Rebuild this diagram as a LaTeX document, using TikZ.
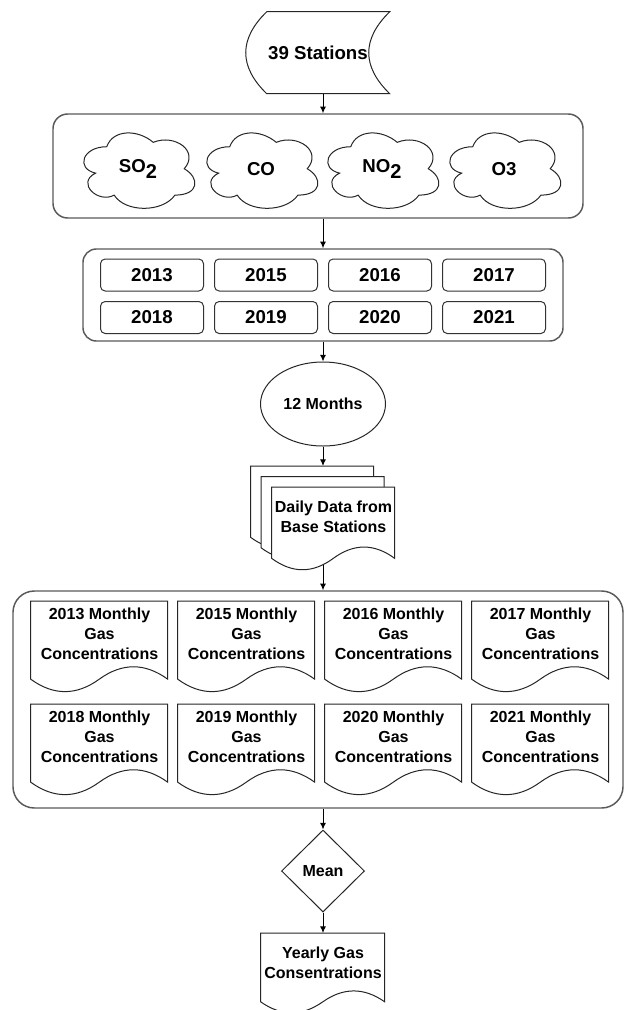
\documentclass[tikz,border=0pt]{standalone}
\usepackage{fontspec}
\setmainfont{Liberation Sans}
\usetikzlibrary{shapes.geometric,arrows.meta,backgrounds,positioning,calc}
% subscript two, set large and lowered as in the chart
\newcommand{\subtwo}{\raisebox{-4pt}{\fontsize{15}{15}\selectfont 2}}
% text block of a document sheet: [c][height][t]{width}, top gap, lines
\newcommand{\docText}[4]{\parbox[c][#1][t]{#2}{\centering\vspace*{#3}#4}}
\newcommand{\cloudShape}[3]{%
  \draw[shapeline,fill=white,shift={(#1.north west)},xscale=#2,yscale=#3]
    (0.25,0.25) .. controls (0.05,0.25) and (0,0.5) .. (0.16,0.55)
    .. controls (0,0.66) and (0.18,0.9) .. (0.31,0.8)
    .. controls (0.4,1) and (0.7,1) .. (0.8,0.8)
    .. controls (1,0.8) and (1,0.6) .. (0.875,0.5)
    .. controls (1,0.3) and (0.8,0.1) .. (0.625,0.2)
    .. controls (0.5,0.05) and (0.3,0.05) .. (0.25,0.25) -- cycle;}
\newcommand{\docShape}[4][0]{%
  \draw[shapeline,fill=white,shift={(#2.north west)},shift={(-#1,-#1)}]
    (0,0) -- (#3,0) -- (#3,{0.85*#4})
    .. controls ({5*#3/6},{0.67*#4}) and ({2*#3/3},{0.67*#4}) .. ({#3/2},{0.85*#4})
    .. controls ({#3/3},{1.03*#4}) and ({#3/6},{1.03*#4}) .. (0,{0.85*#4}) -- cycle;}
\newcommand{\storedShape}[1]{%
  \draw[shapeline,shift={(#1.north west)}]
    (21,0) -- (144,0) .. controls (116,27.3) and (116,54.7) .. (144,82)
    -- (21,82) .. controls (-7,54.7) and (-7,27.3) .. (21,0) -- cycle;}

\begin{document}
\begin{tikzpicture}[
  x=0.75pt,y=-0.75pt,
  >=Latex,
  shapeline/.style={draw=black!85,line width=0.75pt},
  groupbox/.style={rectangle,draw=black!65,line width=1.1pt,inner sep=0pt},
  txt/.style={font=\bfseries\fontsize{12}{15}\selectfont,align=center},
  bigtxt/.style={font=\bfseries\fontsize{14}{16}\selectfont,align=center},
  yrbox/.style={rectangle,rounded corners=3.5pt,draw=black!80,line width=0.75pt,
    minimum width=77.25pt,minimum height=24pt,inner sep=0pt,bigtxt},
  gascloud/.style={rectangle,minimum width=93pt,minimum height=66pt,inner sep=0pt,bigtxt},
  docbox/.style={rectangle,inner sep=0pt,anchor=north,txt},
  arrow/.style={-{Latex[length=5pt,width=4.5pt]},line width=0.75pt}
]
\useasboundingbox (0,0) rectangle (625,1010);

% ── Input ────────────────────────────────────────────────────────────────────
\node[bigtxt,minimum width=108pt,minimum height=61.5pt,inner sep=0pt]
  (stations) at (318,53) {39 Stations};

% ── Gases ────────────────────────────────────────────────────────────────────
\node[groupbox,rounded corners=11pt,minimum width=397.5pt,minimum height=78pt]
  (gasgrp) at (318,166) {};
\foreach \gx/\gname/\glabel in {138/so/SO\subtwo,261/co/CO,382/no/NO\subtwo,504/ot/O3}
  \node[gascloud] (\gname) at (\gx,169) {\glabel};

% ── Years ────────────────────────────────────────────────────────────────────
\node[groupbox,rounded corners=10pt,minimum width=360pt,minimum height=69pt]
  (yeargrp) at (323,295) {};
\foreach \yr/\yx/\yy in {2013/152/275,2015/266/275,2016/380/275,2017/494/275,
                         2018/152/317.5,2019/266/317.5,2020/380/317.5,2021/494/317.5}
  \node[yrbox] (y\yr) at (\yx,\yy) {\yr};

% ── Months and daily data ────────────────────────────────────────────────────
\node[ellipse,shapeline,minimum width=93.75pt,minimum height=63pt,inner sep=0pt,txt]
  (months) at (323,404) {12 Months};
\node[docbox] (daily) at (333.5,487)
  {\docText{63pt}{92.25pt}{10pt}{Daily Data from\\Base Stations}};

% ── Monthly concentrations ───────────────────────────────────────────────────
\node[groupbox,rounded corners=16pt,minimum width=457.5pt,minimum height=162.75pt]
  (monthgrp) at (318,699.5) {};
\foreach \yr/\mx/\my in {2013/99.5/601,2015/246.5/601,2016/393.5/601,2017/540.5/601,
                         2018/99.5/704,2019/246.5/704,2020/393.5/704,2021/540.5/704}
  \node[docbox] (m\yr) at (\mx,\my)
    {\docText{69pt}{102.75pt}{5pt}{\yr{} Monthly\\Gas\\Concentrations}};

% ── Result ───────────────────────────────────────────────────────────────────
\node[diamond,shapeline,minimum width=62.25pt,minimum height=61.5pt,inner sep=0pt,txt]
  (mean) at (323,871) {Mean};
\node[docbox] (yearly) at (323,933)
  {\docText{60.75pt}{93pt}{10.5pt}{Yearly Gas\\Consentrations}};

% ── Outlines (behind the texts) ──────────────────────────────────────────────
\begin{scope}[on background layer]
  \storedShape{stations}
  \foreach \gname in {so,co,no,ot} {\cloudShape{\gname}{124}{88}}
  \docShape[21]{daily}{123}{84}
  \docShape[10.5]{daily}{123}{84}
  \docShape{daily}{123}{84}
  \foreach \yr in {2013,2015,2016,2017,2018,2019,2020,2021} {\docShape{m\yr}{137}{92}}
  \docShape{yearly}{124}{81}
\end{scope}

% ── Arrows (all on one vertical) ─────────────────────────────────────────────
\coordinate (axis) at (323,0);
\coordinate (dailyback) at ($(daily.north)+(0,-21)$);
\coordinate (dailyfoot) at ($(daily.north)+(0,78)$);
\draw[arrow] (axis |- stations.south) -- (axis |- gasgrp.north);
\draw[arrow] (axis |- gasgrp.south) -- (axis |- yeargrp.north);
\draw[arrow] (axis |- yeargrp.south) -- (axis |- months.north);
\draw[arrow] (axis |- months.south) -- (axis |- dailyback);
\draw[arrow] (axis |- dailyfoot) -- (axis |- monthgrp.north);
\draw[arrow] (axis |- monthgrp.south) -- (axis |- mean.north);
\draw[arrow] (axis |- mean.south) -- (axis |- yearly.north);
\end{tikzpicture}
\end{document}
